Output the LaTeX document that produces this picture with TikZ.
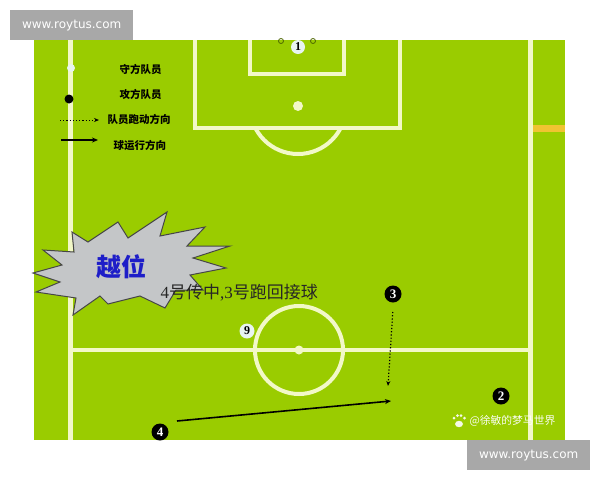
\documentclass[tikz,border=0pt]{standalone}
\usepackage{fontspec}
\setmainfont{Liberation Serif}
\newfontfamily\cjk{Noto Sans CJK SC}
\newfontfamily\wmfont{DejaVu Sans}
\usetikzlibrary{arrows.meta}
\definecolor{fieldgreen}{RGB}{154,204,0}
\definecolor{linecream}{RGB}{242,248,200}
\definecolor{wmgray}{RGB}{168,168,168}
\definecolor{burstgray}{RGB}{196,198,200}
\definecolor{burstline}{RGB}{70,70,70}
\definecolor{offblue}{RGB}{30,30,200}
\definecolor{defwhite}{RGB}{232,244,240}
\definecolor{stripyellow}{RGB}{240,196,50}
\tikzset{
  pitchline/.style={draw=linecream, line width=4pt},
  attacker/.style={circle, fill=black, text=white, inner sep=0pt, minimum size=17pt, font=\bfseries\fontsize{13}{13}\selectfont},
  defender/.style={circle, fill=defwhite, text=black, inner sep=0pt, minimum size=15pt, font=\bfseries\fontsize{12}{12}\selectfont},
  legtext/.style={anchor=west, font=\cjk\bfseries\fontsize{10.5}{11}\selectfont, text=black},
  runarrow/.style={draw=black, line width=1.2pt, dotted, -{Stealth[length=5pt,width=4pt]}},
  ballarrow/.style={draw=black, line width=1.6pt, -{Stealth[length=6pt,width=5pt]}},
  wmbox/.style={fill=wmgray, text=white, inner sep=0pt, minimum width=123pt, minimum height=30pt, font=\wmfont\fontsize{12}{12}\selectfont},
}
\begin{document}
\begin{tikzpicture}[x=1pt,y=-1pt]
\useasboundingbox (0,0) rectangle (600,480);
\fill[white] (0,0) rectangle (600,480);
\fill[fieldgreen] (34,40) rectangle (565,440);
% yellow strip
\fill[stripyellow] (533,125) rectangle (565,132);
% touchlines
\draw[pitchline, line width=5pt] (70,40) -- (70,440);
\draw[pitchline, line width=5pt] (530,40) -- (530,440);
% penalty area
\draw[pitchline] (195,40) -- (195,128) -- (400,128) -- (400,40);
% goal area
\draw[pitchline] (250,40) -- (250,74) -- (344,74) -- (344,40);
% penalty spot and arc
\fill[linecream] (298,106) circle (5pt);
\begin{scope}
\clip (150,130) rectangle (450,170);
\draw[pitchline] (298,106) circle (48pt);
\end{scope}
% halfway line and centre circle
\draw[pitchline] (70,350) -- (530,350);
\draw[pitchline] (299,350) circle (44pt);
\fill[linecream] (299,350) circle (4.5pt);
% goalkeeper and posts
\draw[fieldgreen!50!black, line width=0.8pt] (281,41) circle (2.5pt);
\draw[fieldgreen!50!black, line width=0.8pt] (313,41) circle (2.5pt);
\node[defender, minimum size=14pt] (p1) at (298,47) {1};
% legend
\node[circle, fill=defwhite, inner sep=0pt, minimum size=8pt] (ldef) at (71,68) {};
\node[legtext] (tdef) at (116,69) {守方队员};
\node[circle, fill=black, inner sep=0pt, minimum size=9pt] (latt) at (69,99) {};
\node[legtext] (tatt) at (116,94) {攻方队员};
\coordinate (lr1) at (60,120);
\coordinate (lr2) at (99,120);
\draw[runarrow, line width=0.9pt] (lr1) -- (lr2);
\node[legtext] (trun) at (104,119) {队员跑动方向};
\coordinate (lb1) at (61,140);
\coordinate (lb2) at (98,140);
\draw[ballarrow, line width=1.2pt] (lb1) -- (lb2);
\node[legtext] (tball) at (110,145) {球运行方向};
% starburst
\draw[burstline, fill=burstgray, line width=1pt, line join=miter]
 (43,250) -- (74,252) -- (72,232) -- (88,242) -- (118,222) -- (128,238) -- (167,212)
 -- (160,236) -- (205,227) -- (187,246) -- (230,246) -- (193,258) -- (226,268)
 -- (190,275) -- (203,290) -- (176,290) -- (165,308) -- (140,296) -- (108,304)
 -- (100,296) -- (73,315) -- (76,298) -- (36,292) -- (60,282) -- (33,273) -- (62,265) -- cycle;
\node[font=\cjk\bfseries\fontsize{25}{25}\selectfont, text=offblue] (offside) at (121,267) {越位};
\node[anchor=west, font=\cjk\fontsize{17}{17}\selectfont, text=black!85] (caption) at (157,293) {{\rmfamily 4}号传中{\rmfamily ,3}号跑回接球};
% players
\node[attacker] (p3) at (393,294) {3};
\coordinate (run3) at (388,386);
\draw[runarrow] (p3) ++(-0.2,18) -- (run3);
\node[defender] (p9) at (247,331) {9};
\node[attacker] (p2) at (501,396) {2};
\node[attacker] (p4) at (160,432) {4};
\coordinate (pass) at (391,401);
\draw[ballarrow] (p4) ++(17,-11) -- (pass);
% weibo watermark
\begin{scope}[white, opacity=0.9]
\fill (459,424) ellipse (4pt and 3.2pt);
\fill (454,418) circle (1.5pt);
\fill (457.5,415.5) circle (1.5pt);
\fill (461,415.5) circle (1.5pt);
\fill (464.5,418) circle (1.5pt);
\end{scope}
\node[anchor=west, text=white, opacity=0.95, font=\cjk\fontsize{10.8}{11}\selectfont] (weibo) at (466,421) {@徐敏的梦马世界};
% site watermarks
\node[wmbox, anchor=north west] (wm1) at (10,10) {www.roytus.com};
\node[wmbox, anchor=north west] (wm2) at (467,440) {www.roytus.com};
\end{tikzpicture}
\end{document}
